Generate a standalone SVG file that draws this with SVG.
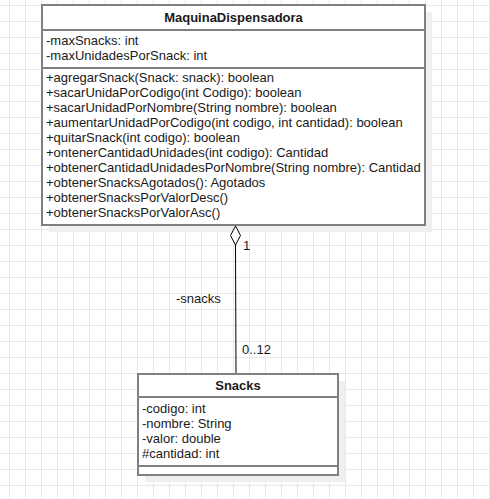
<svg xmlns="http://www.w3.org/2000/svg" width="490" height="499" viewBox="0 0 490 499">
  <style>
    .box { fill: #ffffff; stroke: #808080; stroke-width: 2; }
    .shadow { fill: #efefef; }
    .sep { stroke: #808080; stroke-width: 2; fill: none; }
    .t { font-family: "Liberation Sans", Arial, sans-serif; font-size: 13px; fill: #1a1a1a; }
    .title { font-family: "Liberation Sans", Arial, sans-serif; font-size: 13px; font-weight: bold; fill: #1a1a1a; text-anchor: middle; }
    .edge { stroke: #000000; stroke-width: 1; fill: none; }
    .diamond { fill: #ffffff; stroke: #000000; stroke-width: 1; }
  </style>
  <defs>
    <pattern id="grid" patternUnits="userSpaceOnUse" x="9" y="5" width="16" height="16">
      <rect x="0" y="0" width="16" height="16" fill="#ffffff"/>
      <rect x="0" y="0" width="1" height="16" fill="#e8e8e8"/>
      <rect x="0" y="0" width="16" height="1" fill="#e8e8e8"/>
    </pattern>
  </defs>
  <rect x="0" y="0" width="490" height="499" fill="url(#grid)"/>

  <g id="MaquinaDispensadora">
    <rect class="shadow" x="49" y="12" width="383" height="220"/>
    <rect class="box" x="42" y="5" width="383" height="220"/>
    <line class="sep" x1="42" y1="30" x2="425" y2="30"/>
    <line class="sep" x1="42" y1="68" x2="425" y2="68"/>
    <text class="title" x="233.5" y="22">MaquinaDispensadora</text>
    <text class="t" x="46" y="45">-maxSnacks: int</text>
    <text class="t" x="46" y="60">-maxUnidadesPorSnack: int</text>
    <text class="t" x="46" y="82">+agregarSnack(Snack: snack): boolean</text>
    <text class="t" x="46" y="97">+sacarUnidaPorCodigo(int Codigo): boolean</text>
    <text class="t" x="46" y="112">+sacarUnidadPorNombre(String nombre): boolean</text>
    <text class="t" x="46" y="127">+aumentarUnidadPorCodigo(int codigo, int cantidad): boolean</text>
    <text class="t" x="46" y="142">+quitarSnack(int codigo): boolean</text>
    <text class="t" x="46" y="157">+ontenerCantidadUnidades(int codigo): Cantidad</text>
    <text class="t" x="46" y="172">+obtenerCantidadUnidadesPorNombre(String nombre): Cantidad</text>
    <text class="t" x="46" y="187">+obtenerSnacksAgotados(): Agotados</text>
    <text class="t" x="46" y="202">+obtenerSnacksPorValorDesc()</text>
    <text class="t" x="46" y="217">+obtenerSnacksPorValorAsc()</text>
  </g>

  <g id="Snacks">
    <rect class="shadow" x="145" y="381" width="200" height="101"/>
    <rect class="box" x="138" y="374" width="200" height="101"/>
    <line class="sep" x1="138" y1="397" x2="338" y2="397"/>
    <line class="sep" x1="138" y1="466" x2="338" y2="466"/>
    <text class="title" x="238" y="390">Snacks</text>
    <text class="t" x="142" y="413">-codigo: int</text>
    <text class="t" x="142" y="428">-nombre: String</text>
    <text class="t" x="142" y="443">-valor: double</text>
    <text class="t" x="142" y="458">#cantidad: int</text>
  </g>

  <g id="connectors">
    <line class="edge" x1="235.5" y1="245" x2="236" y2="373"/>
    <polygon class="diamond" points="235.5,226 240.5,235.5 235.5,245 230.5,235.5"/>
    <text class="t" x="243" y="250">1</text>
    <text class="t" x="176" y="303">-snacks</text>
    <text class="t" x="242" y="354">0..12</text>
  </g>
</svg>
